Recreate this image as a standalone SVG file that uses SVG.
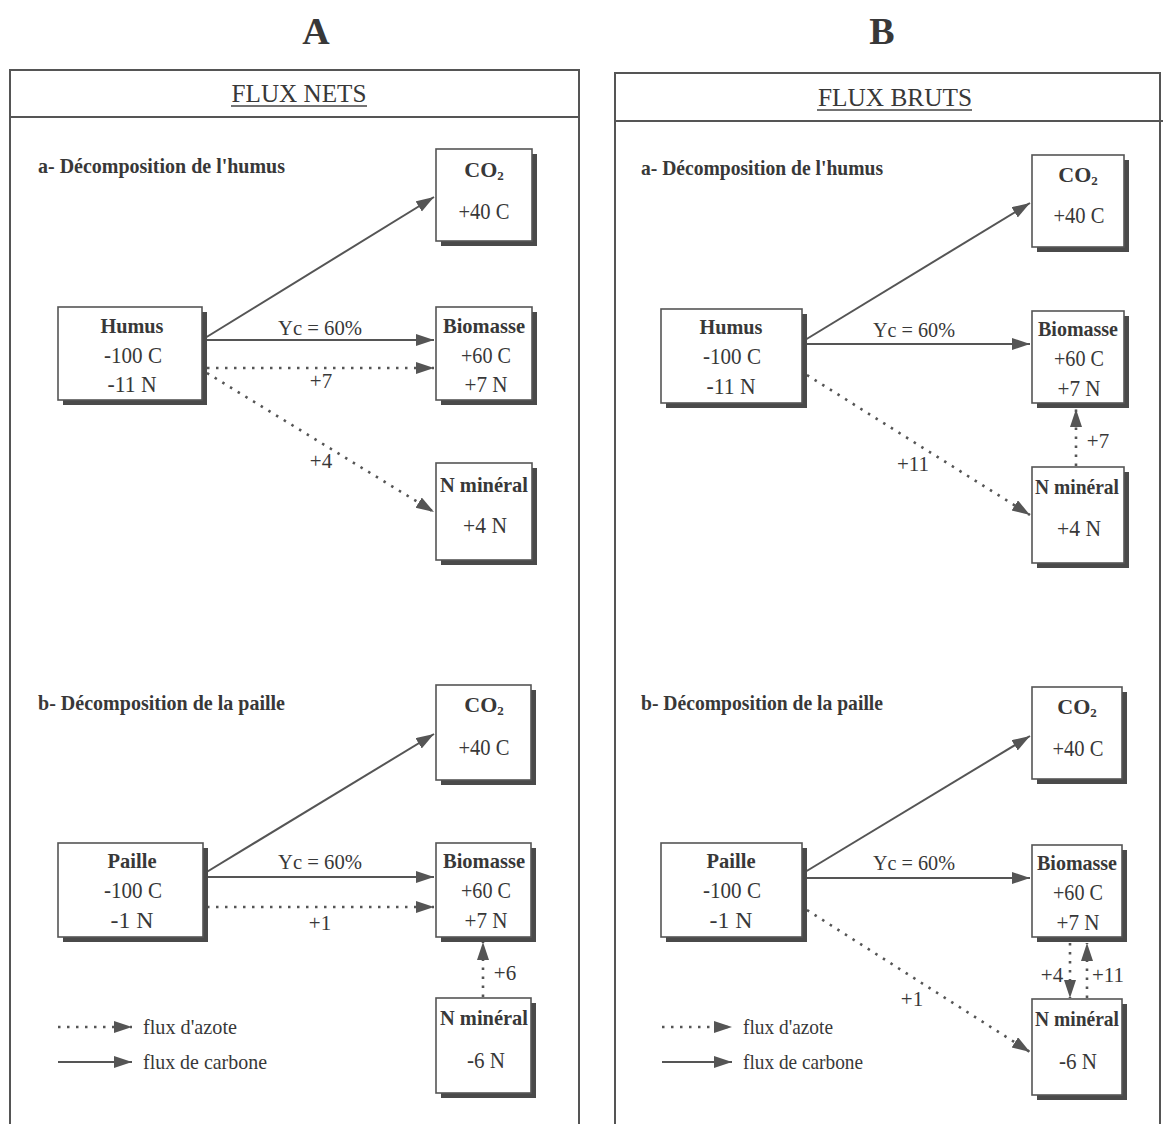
<svg xmlns="http://www.w3.org/2000/svg" width="1163" height="1124" viewBox="0 0 1163 1124">
<style>
  text { font-family: "Liberation Serif", "Times New Roman", serif; fill: #383838; }
  .big { font-size: 38px; font-weight: bold; text-anchor: middle; }
  .hdr { font-size: 25px; text-anchor: middle; }
  .ttl { font-size: 21px; font-weight: bold; }
  .bt { font-size: 22px; font-weight: bold; text-anchor: middle; }
  .bv { font-size: 23px; text-anchor: middle; }
  .lb { font-size: 21px; text-anchor: middle; }
  .lg { font-size: 21px; }
  .panel { fill: none; stroke: #555; stroke-width: 2; }
  .shadow { fill: #4a4a4a; }
  .box { fill: #fff; stroke: #555; stroke-width: 1.6; }
  .c { fill: none; stroke: #555; stroke-width: 2; marker-end: url(#ah); }
  .n { fill: none; stroke: #555; stroke-width: 2.6; stroke-dasharray: 2.5 6.5; marker-end: url(#ah); }
</style>
<defs>
  <marker id="ah" markerUnits="userSpaceOnUse" markerWidth="20" markerHeight="14" refX="18" refY="6" orient="auto">
    <path d="M0,0 L18,6 L0,12 z" fill="#555"/>
  </marker>
</defs>
<rect width="1163" height="1124" fill="#fff"/>

<!-- Panel A -->
<g id="panelA">
  <text class="big" x="316" y="44">A</text>
  <rect class="panel" x="10" y="70" width="569" height="1070"/>
  <line x1="10" y1="117" x2="579" y2="117" stroke="#555" stroke-width="2"/>
  <text class="hdr" x="299" y="102" textLength="135" lengthAdjust="spacingAndGlyphs">FLUX NETS</text>
  <line x1="231" y1="106" x2="367" y2="106" stroke="#444" stroke-width="1.6"/>
  <text class="ttl" x="38" y="173" textLength="247" lengthAdjust="spacingAndGlyphs">a- Décomposition de l'humus</text>
  <text class="ttl" x="38" y="710" textLength="247" lengthAdjust="spacingAndGlyphs">b- Décomposition de la paille</text>
</g>

<!-- Panel B -->
<g id="panelB">
  <text class="big" x="882" y="44">B</text>
  <rect class="panel" x="615" y="73" width="545" height="1070"/>
  <line x1="615" y1="121" x2="1163" y2="121" stroke="#555" stroke-width="2"/>
  <text class="hdr" x="895" y="106" textLength="154" lengthAdjust="spacingAndGlyphs">FLUX BRUTS</text>
  <line x1="817" y1="110" x2="972" y2="110" stroke="#444" stroke-width="1.6"/>
  <text class="ttl" x="641" y="175" textLength="242" lengthAdjust="spacingAndGlyphs">a- Décomposition de l'humus</text>
  <text class="ttl" x="641" y="710" textLength="242" lengthAdjust="spacingAndGlyphs">b- Décomposition de la paille</text>
</g>

<!-- Connectors -->
<g id="connectors">
  <!-- A, part a -->
  <line class="c" x1="205" y1="338" x2="434" y2="197"/>
  <line class="c" x1="205" y1="340" x2="434" y2="340"/>
  <line class="n" x1="207" y1="368" x2="434" y2="368"/>
  <line class="n" x1="207" y1="373" x2="434" y2="512"/>
  <text class="lb" x="320" y="335" textLength="84" lengthAdjust="spacingAndGlyphs">Yc = 60%</text>
  <text class="lb" x="321" y="388">+7</text>
  <text class="lb" x="321" y="468">+4</text>
  <!-- A, part b -->
  <line class="c" x1="205" y1="873" x2="434" y2="734"/>
  <line class="c" x1="205" y1="877" x2="434" y2="877"/>
  <line class="n" x1="207" y1="907" x2="434" y2="907"/>
  <line class="n" x1="483" y1="997" x2="483" y2="942"/>
  <text class="lb" x="320" y="869" textLength="84" lengthAdjust="spacingAndGlyphs">Yc = 60%</text>
  <text class="lb" x="320" y="930">+1</text>
  <text class="lb" x="505" y="980">+6</text>
  <!-- B, part a -->
  <line class="c" x1="805" y1="340" x2="1030" y2="203"/>
  <line class="c" x1="805" y1="344" x2="1030" y2="344"/>
  <line class="n" x1="807" y1="375" x2="1030" y2="515"/>
  <line class="n" x1="1076" y1="466" x2="1076" y2="409"/>
  <text class="lb" x="914" y="337" textLength="82" lengthAdjust="spacingAndGlyphs">Yc = 60%</text>
  <text class="lb" x="913" y="471">+11</text>
  <text class="lb" x="1098" y="448">+7</text>
  <!-- B, part b -->
  <line class="c" x1="805" y1="872" x2="1030" y2="736"/>
  <line class="c" x1="805" y1="878" x2="1030" y2="878"/>
  <line class="n" x1="807" y1="910" x2="1030" y2="1052"/>
  <line class="n" x1="1070" y1="943" x2="1070" y2="998"/>
  <line class="n" x1="1087" y1="998" x2="1087" y2="943"/>
  <text class="lb" x="914" y="870" textLength="82" lengthAdjust="spacingAndGlyphs">Yc = 60%</text>
  <text class="lb" x="912" y="1006">+1</text>
  <text class="lb" x="1052" y="982">+4</text>
  <text class="lb" x="1108" y="982">+11</text>
</g>

<!-- Legends -->
<g id="legendA">
  <line class="n" x1="58" y1="1027" x2="132" y2="1027"/>
  <line class="c" x1="58" y1="1062" x2="132" y2="1062"/>
  <text class="lg" x="143" y="1034" textLength="94" lengthAdjust="spacingAndGlyphs">flux d'azote</text>
  <text class="lg" x="143" y="1069" textLength="124" lengthAdjust="spacingAndGlyphs">flux de carbone</text>
</g>
<g id="legendB">
  <line class="n" x1="662" y1="1027" x2="732" y2="1027"/>
  <line class="c" x1="662" y1="1062" x2="732" y2="1062"/>
  <text class="lg" x="743" y="1034" textLength="90" lengthAdjust="spacingAndGlyphs">flux d'azote</text>
  <text class="lg" x="743" y="1069" textLength="120" lengthAdjust="spacingAndGlyphs">flux de carbone</text>
</g>

<!-- Nodes: panel A -->
<g id="A-co2-a">
  <rect class="shadow" x="441" y="154" width="96" height="92"/>
  <rect class="box" x="436" y="149" width="96" height="92"/>
  <text class="bt" x="484" y="177">CO<tspan font-size="13" dy="3">2</tspan></text>
  <text class="bv" x="484" y="219" textLength="51" lengthAdjust="spacingAndGlyphs">+40 C</text>
</g>
<g id="A-humus">
  <rect class="shadow" x="63" y="312" width="144" height="93"/>
  <rect class="box" x="58" y="307" width="144" height="93"/>
  <text class="bt" x="132" y="333" textLength="63" lengthAdjust="spacingAndGlyphs">Humus</text>
  <text class="bv" x="133" y="363" textLength="58" lengthAdjust="spacingAndGlyphs">-100 C</text>
  <text class="bv" x="132" y="392" textLength="49" lengthAdjust="spacingAndGlyphs">-11 N</text>
</g>
<g id="A-biomasse-a">
  <rect class="shadow" x="441" y="312" width="96" height="93"/>
  <rect class="box" x="436" y="307" width="96" height="93"/>
  <text class="bt" x="484" y="333" textLength="82" lengthAdjust="spacingAndGlyphs">Biomasse</text>
  <text class="bv" x="486" y="363" textLength="50" lengthAdjust="spacingAndGlyphs">+60 C</text>
  <text class="bv" x="486" y="392" textLength="43" lengthAdjust="spacingAndGlyphs">+7 N</text>
</g>
<g id="A-nmin-a">
  <rect class="shadow" x="441" y="468" width="96" height="97"/>
  <rect class="box" x="436" y="463" width="96" height="97"/>
  <text class="bt" x="484" y="492" textLength="88" lengthAdjust="spacingAndGlyphs">N minéral</text>
  <text class="bv" x="485" y="533" textLength="44" lengthAdjust="spacingAndGlyphs">+4 N</text>
</g>
<g id="A-co2-b">
  <rect class="shadow" x="441" y="690" width="95" height="95"/>
  <rect class="box" x="436" y="685" width="95" height="95"/>
  <text class="bt" x="484" y="712">CO<tspan font-size="13" dy="3">2</tspan></text>
  <text class="bv" x="484" y="755" textLength="51" lengthAdjust="spacingAndGlyphs">+40 C</text>
</g>
<g id="A-paille">
  <rect class="shadow" x="63" y="848" width="145" height="94"/>
  <rect class="box" x="58" y="843" width="145" height="94"/>
  <text class="bt" x="132" y="868" textLength="49" lengthAdjust="spacingAndGlyphs">Paille</text>
  <text class="bv" x="133" y="898" textLength="58" lengthAdjust="spacingAndGlyphs">-100 C</text>
  <text class="bv" x="132" y="928" textLength="43" lengthAdjust="spacingAndGlyphs">-1 N</text>
</g>
<g id="A-biomasse-b">
  <rect class="shadow" x="441" y="848" width="95" height="94"/>
  <rect class="box" x="436" y="843" width="95" height="94"/>
  <text class="bt" x="484" y="868" textLength="82" lengthAdjust="spacingAndGlyphs">Biomasse</text>
  <text class="bv" x="486" y="898" textLength="50" lengthAdjust="spacingAndGlyphs">+60 C</text>
  <text class="bv" x="486" y="928" textLength="43" lengthAdjust="spacingAndGlyphs">+7 N</text>
</g>
<g id="A-nmin-b">
  <rect class="shadow" x="441" y="1003" width="95" height="95"/>
  <rect class="box" x="436" y="998" width="95" height="95"/>
  <text class="bt" x="484" y="1025" textLength="88" lengthAdjust="spacingAndGlyphs">N minéral</text>
  <text class="bv" x="486" y="1068" textLength="38" lengthAdjust="spacingAndGlyphs">-6 N</text>
</g>

<!-- Nodes: panel B -->
<g id="B-co2-a">
  <rect class="shadow" x="1037" y="160" width="92" height="92"/>
  <rect class="box" x="1032" y="155" width="92" height="92"/>
  <text class="bt" x="1078" y="182">CO<tspan font-size="13" dy="3">2</tspan></text>
  <text class="bv" x="1079" y="223" textLength="51" lengthAdjust="spacingAndGlyphs">+40 C</text>
</g>
<g id="B-humus">
  <rect class="shadow" x="666" y="314" width="141" height="94"/>
  <rect class="box" x="661" y="309" width="141" height="94"/>
  <text class="bt" x="731" y="334" textLength="63" lengthAdjust="spacingAndGlyphs">Humus</text>
  <text class="bv" x="732" y="364" textLength="58" lengthAdjust="spacingAndGlyphs">-100 C</text>
  <text class="bv" x="731" y="394" textLength="49" lengthAdjust="spacingAndGlyphs">-11 N</text>
</g>
<g id="B-biomasse-a">
  <rect class="shadow" x="1037" y="316" width="92" height="92"/>
  <rect class="box" x="1032" y="311" width="92" height="92"/>
  <text class="bt" x="1078" y="336" textLength="80" lengthAdjust="spacingAndGlyphs">Biomasse</text>
  <text class="bv" x="1079" y="366" textLength="50" lengthAdjust="spacingAndGlyphs">+60 C</text>
  <text class="bv" x="1079" y="396" textLength="43" lengthAdjust="spacingAndGlyphs">+7 N</text>
</g>
<g id="B-nmin-a">
  <rect class="shadow" x="1037" y="472" width="92" height="96"/>
  <rect class="box" x="1032" y="467" width="92" height="96"/>
  <text class="bt" x="1077" y="494" textLength="84" lengthAdjust="spacingAndGlyphs">N minéral</text>
  <text class="bv" x="1079" y="536" textLength="44" lengthAdjust="spacingAndGlyphs">+4 N</text>
</g>
<g id="B-co2-b">
  <rect class="shadow" x="1037" y="692" width="90" height="92"/>
  <rect class="box" x="1032" y="687" width="90" height="92"/>
  <text class="bt" x="1077" y="714">CO<tspan font-size="13" dy="3">2</tspan></text>
  <text class="bv" x="1078" y="756" textLength="51" lengthAdjust="spacingAndGlyphs">+40 C</text>
</g>
<g id="B-paille">
  <rect class="shadow" x="666" y="848" width="141" height="94"/>
  <rect class="box" x="661" y="843" width="141" height="94"/>
  <text class="bt" x="731" y="868" textLength="49" lengthAdjust="spacingAndGlyphs">Paille</text>
  <text class="bv" x="732" y="898" textLength="58" lengthAdjust="spacingAndGlyphs">-100 C</text>
  <text class="bv" x="731" y="928" textLength="43" lengthAdjust="spacingAndGlyphs">-1 N</text>
</g>
<g id="B-biomasse-b">
  <rect class="shadow" x="1037" y="850" width="90" height="92"/>
  <rect class="box" x="1032" y="845" width="90" height="92"/>
  <text class="bt" x="1077" y="870" textLength="80" lengthAdjust="spacingAndGlyphs">Biomasse</text>
  <text class="bv" x="1078" y="900" textLength="50" lengthAdjust="spacingAndGlyphs">+60 C</text>
  <text class="bv" x="1078" y="930" textLength="43" lengthAdjust="spacingAndGlyphs">+7 N</text>
</g>
<g id="B-nmin-b">
  <rect class="shadow" x="1037" y="1004" width="90" height="96"/>
  <rect class="box" x="1032" y="999" width="90" height="96"/>
  <text class="bt" x="1077" y="1026" textLength="84" lengthAdjust="spacingAndGlyphs">N minéral</text>
  <text class="bv" x="1078" y="1069" textLength="38" lengthAdjust="spacingAndGlyphs">-6 N</text>
</g>
</svg>
